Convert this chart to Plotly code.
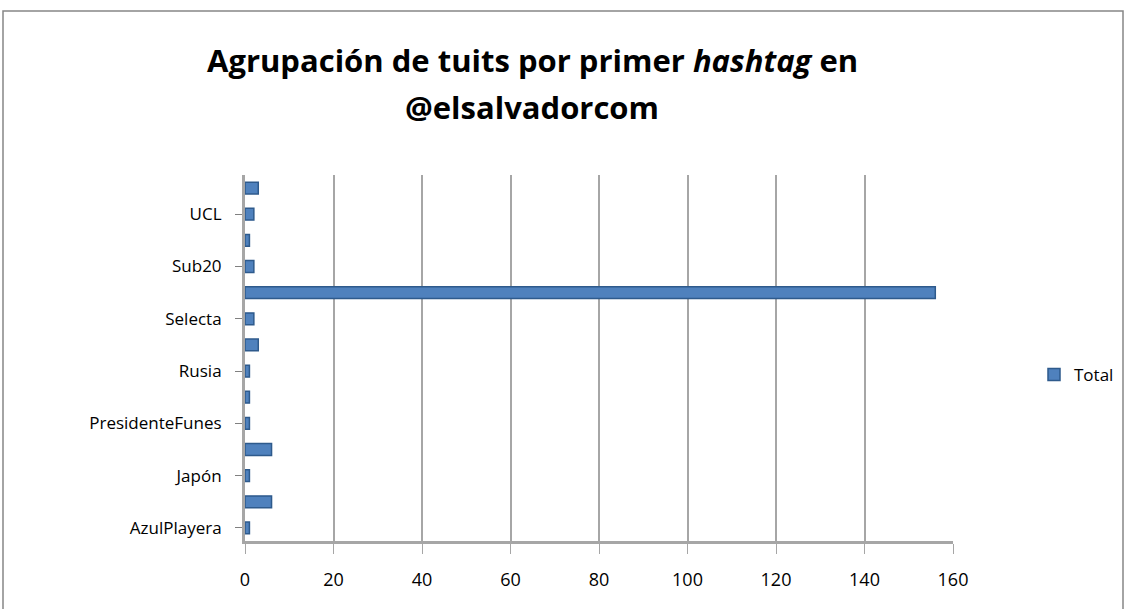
import plotly.graph_objects as go

categories = ["AzulPlayera", "Brasil", "Japón", "LaSelecta", "PresidenteFunes", "Qatar",
              "Rusia", "SalvadorSub17", "Selecta", "SelectaSV", "Sub20", "Tuits", "UCL", "Venezuela"]
totals = [1, 6, 1, 6, 1, 1, 1, 3, 2, 156, 2, 1, 2, 3]
x_ticks = [0, 20, 40, 60, 80, 100, 120, 140, 160]

W, H = 1127, 609
L, R, T, B = 245, 1127 - 953, 175, 609 - 541
pw, ph = W - L - R, H - T - B

fig = go.Figure()
fig.add_trace(go.Bar(
    y=categories, x=totals, orientation="h", name="Total",
    width=0.45,
    marker=dict(color="#4F81BD", line=dict(color="#2E5A8C", width=1.5)),
))

font_family = "Open Sans, DejaVu Sans, sans-serif"

def px_x(px):
    return (px - L) / pw

def px_y(py):
    return (H - B - py) / ph

fig.update_layout(
    template="none",
    width=W, height=H,
    margin=dict(l=L, r=R, t=T, b=B, autoexpand=False),
    paper_bgcolor="white", plot_bgcolor="white",
    annotations=[
        dict(text="<b>Agrupación de tuits por primer <i>hashtag</i> en</b>",
             xref="paper", yref="paper", x=px_x(532), y=px_y(60),
             xanchor="center", yanchor="middle", showarrow=False,
             font=dict(family=font_family, size=31, color="black")),
        dict(text="<b>@elsalvadorcom</b>",
             xref="paper", yref="paper", x=px_x(532), y=px_y(107),
             xanchor="center", yanchor="middle", showarrow=False,
             font=dict(family=font_family, size=31, color="black")),
    ],
    xaxis=dict(
        range=[0, 160], tickmode="array", tickvals=x_ticks,
        showgrid=True, gridcolor="#A6A6A6", gridwidth=2,
        zeroline=False, showline=True, linecolor="#A6A6A6", linewidth=3,
        ticks="outside", ticklen=10, tickcolor="#A6A6A6", tickwidth=1,
        ticklabelstandoff=10,
        tickfont=dict(family=font_family, size=18, color="black"),
        automargin=False, fixedrange=True,
    ),
    yaxis=dict(
        type="category", categoryorder="array", categoryarray=categories,
        range=[-0.5, len(categories) - 0.5],
        tickmode="array", tickvals=categories[::2], ticktext=categories[::2],
        showgrid=False, zeroline=False, showline=True, linecolor="#A6A6A6", linewidth=3,
        ticks="outside", ticklen=7, tickcolor="#808080", tickwidth=1,
        ticklabelstandoff=10,
        tickfont=dict(family=font_family, size=17, color="black"),
        automargin=False, fixedrange=True,
    ),
    showlegend=True,
    legend=dict(
        x=px_x(1034), y=px_y(375), xanchor="left", yanchor="middle",
        font=dict(family=font_family, size=17, color="black"),
        bgcolor="rgba(0,0,0,0)", borderwidth=0,
    ),
    shapes=[dict(
        type="rect", xref="paper", yref="paper",
        x0=px_x(3), x1=px_x(1123),
        y0=px_y(640), y1=px_y(11),
        line=dict(color="#868686", width=1.5), fillcolor="rgba(0,0,0,0)", layer="below",
    )],
)

fig.write_html("out.html", config={"displayModeBar": False},
               post_script="document.body.style.margin='0';document.body.style.overflow='hidden';")
